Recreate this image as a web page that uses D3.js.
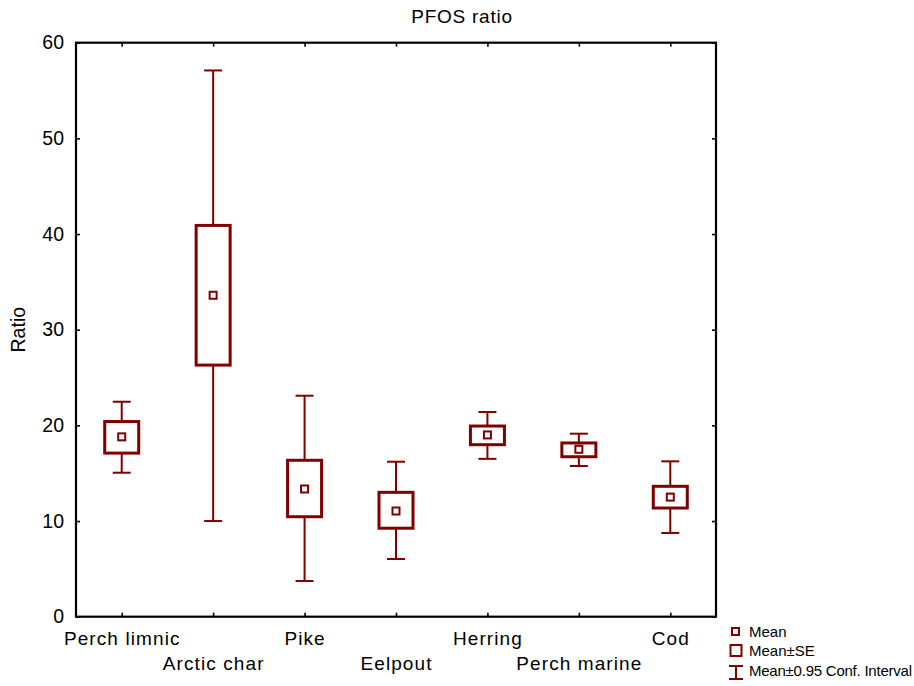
<!DOCTYPE html>
<html>
<head>
<meta charset="utf-8">
<script src="https://cdn.jsdelivr.net/npm/d3@7"></script>
<style>
  html, body { margin: 0; padding: 0; background: #fff; }
  svg { display: block; font-family: "Liberation Sans", Arial, sans-serif; }
</style>
</head>
<body>
<svg id="chart" width="914" height="686"></svg>
<script>
// Species groups and their PFOS ratio summary statistics
const categories = ["Perch limnic", "Arctic char", "Pike", "Eelpout", "Herring", "Perch marine", "Cod"];
const means   = [18.8, 33.6, 13.35, 11.05, 19.0, 17.5, 12.5];
const seLow   = [17.1, 26.3, 10.45, 9.25, 17.98, 16.72, 11.36];
const seHigh  = [20.4, 40.9, 16.35, 13.0, 19.93, 18.16, 13.63];
const ciLow   = [15.05, 10.0, 3.73, 6.03, 16.5, 15.75, 8.75];
const ciHigh  = [22.47, 57.1, 23.1, 16.2, 21.4, 19.13, 16.24];
const yTicks  = [0, 10, 20, 30, 40, 50, 60];
const legendLabels = ["Mean", "Mean\u00b1SE", "Mean\u00b10.95 Conf. Interval"];

const color = "#800000";
const svg = d3.select("#chart");

const plotL = 76, plotR = 716, plotT = 42.7, plotB = 616.7;

const x = d3.scalePoint().domain(categories).range([plotL, plotR]).padding(0.5);
const y = d3.scaleLinear().domain([0, 60]).range([plotB, plotT]);

const rows = categories.map((c, i) => ({
  cat: c, mean: means[i], seLo: seLow[i], seHi: seHigh[i], ciLo: ciLow[i], ciHi: ciHigh[i]
}));

// Frame and axes (ticks point inward)
const axisFont = size => g => g.selectAll("text")
  .attr("font-size", size).attr("fill", "#000")
  .attr("font-family", "'Liberation Sans', Arial, sans-serif");
const styleAxis = g => {
  g.select(".domain").remove();
  g.selectAll(".tick line").attr("stroke", "#000").attr("stroke-width", 1.6);
};

svg.append("g").attr("transform", `translate(${plotL},0)`)
  .call(d3.axisLeft(y).tickValues(yTicks).tickSize(-4).tickPadding(12))
  .call(styleAxis).call(axisFont(19.5));

svg.append("g").attr("transform", `translate(${plotR},0)`)
  .call(d3.axisRight(y).tickValues(yTicks).tickSize(-4).tickFormat(""))
  .call(styleAxis);

svg.append("g").attr("transform", `translate(0,${plotT})`)
  .call(d3.axisTop(x).tickSize(-4).tickFormat(""))
  .call(styleAxis);

const xAxis = svg.append("g").attr("transform", `translate(0,${plotB})`)
  .call(d3.axisBottom(x).tickSize(-4))
  .call(styleAxis).call(axisFont(19));
xAxis.selectAll(".tick text")
  .attr("dy", null)
  .attr("letter-spacing", 1.1)
  .attr("y", (d, i) => i % 2 === 0 ? 28.5 : 53.5);

svg.append("rect")
  .attr("x", plotL).attr("y", plotT)
  .attr("width", plotR - plotL).attr("height", plotB - plotT)
  .attr("fill", "none").attr("stroke", "#000").attr("stroke-width", 2.2);

// Title and y axis label
svg.append("text")
  .attr("x", 462).attr("y", 23)
  .attr("text-anchor", "middle").attr("font-size", 19).attr("letter-spacing", 0.75)
  .text("PFOS ratio");

svg.append("text")
  .attr("transform", `translate(25,${(plotT + plotB) / 2}) rotate(-90)`)
  .attr("text-anchor", "middle").attr("font-size", 19.5)
  .text("Ratio");

// Whiskers, SE boxes and mean markers
const capW = 18, boxW = 34, meanS = 7;
const grp = svg.append("g").selectAll("g").data(rows).join("g")
  .attr("transform", d => `translate(${x(d.cat)},0)`);

grp.append("line")
  .attr("y1", d => y(d.ciHi)).attr("y2", d => y(d.seHi))
  .attr("stroke", color).attr("stroke-width", 2);
grp.append("line")
  .attr("y1", d => y(d.seLo)).attr("y2", d => y(d.ciLo))
  .attr("stroke", color).attr("stroke-width", 2);
grp.append("line")
  .attr("x1", -capW / 2).attr("x2", capW / 2)
  .attr("y1", d => y(d.ciHi)).attr("y2", d => y(d.ciHi))
  .attr("stroke", color).attr("stroke-width", 2);
grp.append("line")
  .attr("x1", -capW / 2).attr("x2", capW / 2)
  .attr("y1", d => y(d.ciLo)).attr("y2", d => y(d.ciLo))
  .attr("stroke", color).attr("stroke-width", 2);
grp.append("rect")
  .attr("x", -boxW / 2).attr("width", boxW)
  .attr("y", d => y(d.seHi)).attr("height", d => y(d.seLo) - y(d.seHi))
  .attr("fill", "none").attr("stroke", color).attr("stroke-width", 3);
grp.append("rect")
  .attr("x", -meanS / 2).attr("width", meanS)
  .attr("y", d => y(d.mean) - meanS / 2).attr("height", meanS)
  .attr("fill", "none").attr("stroke", color).attr("stroke-width", 2);

// Legend
const lg = svg.append("g").attr("font-size", 15);
const lx = 736;
lg.append("rect").attr("x", lx - 4).attr("y", 628).attr("width", 7).attr("height", 7)
  .attr("fill", "none").attr("stroke", color).attr("stroke-width", 2);
lg.append("rect").attr("x", lx - 5.5).attr("y", 645).attr("width", 11).attr("height", 11)
  .attr("fill", "none").attr("stroke", color).attr("stroke-width", 2);
lg.append("line").attr("x1", lx - 7).attr("x2", lx + 7).attr("y1", 666).attr("y2", 666)
  .attr("stroke", color).attr("stroke-width", 2);
lg.append("line").attr("x1", lx - 7).attr("x2", lx + 7).attr("y1", 679).attr("y2", 679)
  .attr("stroke", color).attr("stroke-width", 2);
lg.append("line").attr("x1", lx).attr("x2", lx).attr("y1", 666).attr("y2", 679)
  .attr("stroke", color).attr("stroke-width", 2);
lg.selectAll("text").data(legendLabels).join("text")
  .attr("x", 749).attr("y", (d, i) => 636.5 + i * 19.7)
  .attr("textLength", (d, i) => i === 2 ? 163 : null)
  .text(d => d);
</script>
</body>
</html>
